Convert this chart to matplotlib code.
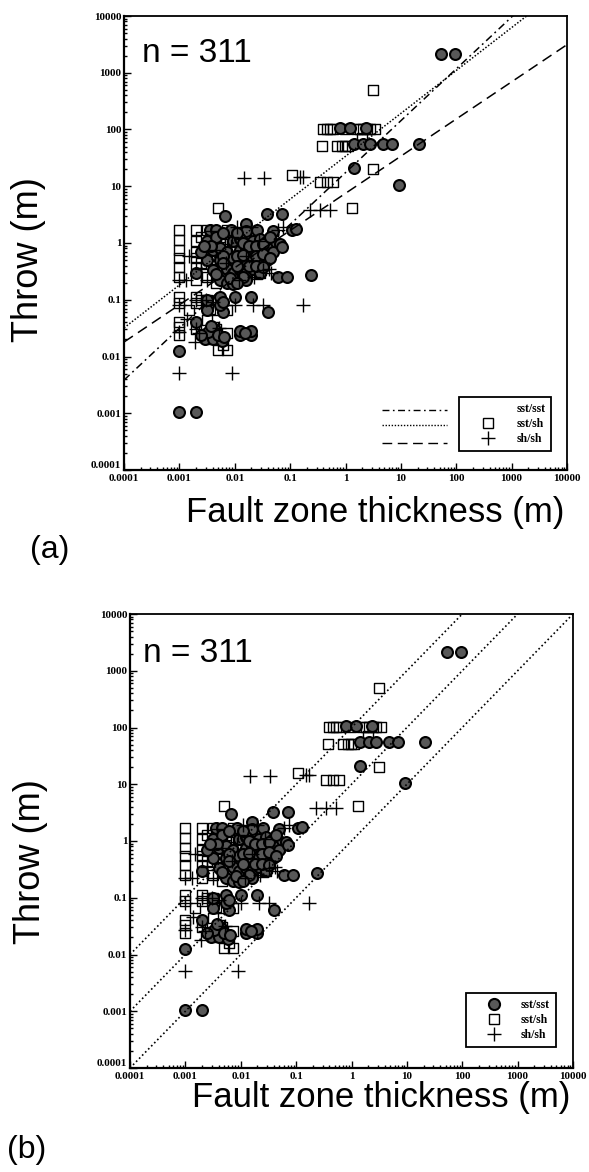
import matplotlib
matplotlib.use("Agg")
import matplotlib.pyplot as plt
import numpy as np
from matplotlib.lines import Line2D
from matplotlib.ticker import FixedLocator, FixedFormatter, LogLocator, NullFormatter

# ---------------------------------------------------------------- data
# fault zone thickness (m) and throw (m), by juxtaposition class
sst_sst_thick = [52, 95, 0.8, 1.2, 2.3, 1.4, 2.1, 2.8, 4.8, 6.8, 21, 1.45, 9.2,
                 0.0067, 0.016, 0.038, 0.07, 0.106, 0.13, 0.234, 0.061, 0.087,
                 0.010, 0.020, 0.040, 0.0062, 0.0124, 0.020, 0.0124, 0.020,
                 0.001, 0.001, 0.002,
                 0.002, 0.0029, 0.0041, 0.0044, 0.0060, 0.0033, 0.0031, 0.0054,
                 0.0055, 0.0062, 0.0031,
                 0.0035, 0.0045, 0.0085, 0.016, 0.025, 0.05,
                 0.0031, 0.0093, 0.0123, 0.021, 0.028, 0.038, 0.05, 0.066,
                 0.0041, 0.0054, 0.0071, 0.0123, 0.0162, 0.021, 0.028, 0.038, 0.05, 0.070,
                 0.0031, 0.0054, 0.0093, 0.0123, 0.0162, 0.021, 0.028, 0.038,
                 0.0020, 0.0041, 0.0071, 0.0093, 0.0123, 0.0162, 0.021, 0.028,
                 0.0054, 0.0071, 0.0093, 0.0162,
                 0.0045, 0.0062, 0.0108, 0.014, 0.018, 0.024, 0.033, 0.044,
                 0.0062, 0.0108, 0.014, 0.018, 0.024, 0.033, 0.044, 0.0108,
                 0.014, 0.024, 0.033, 0.0045, 0.0062, 0.0082, 0.011, 0.0038,
                 0.0025, 0.0028,
                 0.0038, 0.005, 0.0025, 0.0065, 0.015]
sst_sst_throw = [2100, 2100, 105, 105, 105, 55, 55, 55, 55, 55, 55, 21, 10.5,
                 3.0, 2.2, 3.2, 3.2, 1.7, 1.8, 0.27, 0.25, 0.25,
                 0.113, 0.113, 0.062, 0.062, 0.024, 0.024, 0.028, 0.028,
                 0.0126, 0.00105, 0.00105,
                 0.041, 0.020, 0.020, 0.029, 0.019, 0.027, 0.066, 0.11,
                 0.08, 0.09, 0.10,
                 1.7, 1.7, 1.7, 1.6, 1.7, 1.6,
                 1.1, 1.1, 1.2, 1.1, 1.2, 1.1, 1.0, 0.95,
                 0.75, 0.8, 0.7, 0.75, 0.8, 0.7, 0.75, 0.8, 0.7, 0.86,
                 0.5, 0.5, 0.55, 0.45, 0.5, 0.55, 0.45, 0.5,
                 0.3, 0.33, 0.35, 0.3, 0.33, 0.3, 0.35, 0.3,
                 0.22, 0.2, 0.19, 0.22,
                 1.3, 1.5, 1.5, 1.0, 0.9, 0.9, 0.95, 1.3,
                 0.6, 0.6, 0.62, 0.4, 0.6, 0.65, 0.55, 0.4,
                 0.25, 0.4, 0.38, 0.28, 0.45, 0.24, 0.2, 0.9,
                 0.7, 0.9,
                 0.034, 0.024, 0.024, 0.022, 0.026]

sst_sh_thick = [3.1, 1.95, 3.1, 1.29, 0.106, 0.345, 0.457, 0.60,
                0.40, 0.46, 0.52, 0.60, 0.97, 1.58, 1.82, 2.09, 2.4, 2.75, 3.4,
                0.37, 0.71, 0.85, 0.97, 1.12,
                0.005,
                0.001, 0.001, 0.001, 0.001, 0.001, 0.001, 0.001, 0.001, 0.001, 0.001, 0.001,
                0.002, 0.002, 0.002, 0.002, 0.002, 0.002, 0.002, 0.002, 0.0015, 0.002,
                0.0031, 0.0041, 0.0054, 0.0041, 0.0031, 0.0054, 0.0071, 0.0093, 0.0123,
                0.0162, 0.021, 0.028, 0.0071, 0.0093, 0.0123, 0.0054, 0.0041, 0.0031,
                0.0071, 0.025, 0.03, 0.009,
                0.005, 0.0071, 0.0071, 0.0031, 0.0041, 0.0041, 0.0031, 0.0071,
                0.0025, 0.0036, 0.0046, 0.0036, 0.0046, 0.0062, 0.0082, 0.0108,
                0.014, 0.018, 0.024, 0.0025, 0.0062, 0.0082, 0.0046, 0.0036,
                0.0025, 0.0046, 0.0062, 0.0036]
sst_sh_throw = [500, 70, 20, 4.2, 16, 12, 12, 12,
                104, 104, 104, 104, 104, 104, 104, 104, 104, 104, 104,
                51, 51, 51, 51, 51,
                4.1,
                1.7, 1.13, 0.75, 0.54, 0.38, 0.25, 0.113, 0.086, 0.041, 0.033, 0.024,
                1.7, 1.1, 0.7, 0.54, 0.38, 0.22, 0.113, 0.086, 0.066, 0.03,
                1.7, 1.6, 1.3, 0.85, 0.6, 0.6, 0.55, 0.7, 0.5,
                1.5, 0.35, 0.3, 1.7, 1.5, 1.2, 0.25, 0.4, 0.25,
                0.3, 0.28, 0.33, 0.9,
                0.013, 0.013, 0.026, 0.044, 0.033, 0.066, 0.1, 0.066,
                1.3, 1.2, 1.0, 0.5, 0.35, 0.38, 0.45, 0.28,
                0.7, 1.3, 0.5, 0.45, 0.95, 1.2, 0.2, 0.07,
                0.1, 0.03, 0.016, 0.02]

sh_sh_thick = [0.0147, 0.034, 0.15, 0.17, 0.227, 0.345, 0.52, 0.168, 0.001, 0.0091,
               0.010, 0.021, 0.032, 0.032, 0.001, 0.0013, 0.001, 0.001, 0.0019, 0.002,
               0.002, 0.06, 0.075, 0.0015, 0.003, 0.0023, 0.012, 0.007, 0.045, 0.042,
               0.02, 0.011, 0.0031, 0.0085,
               0.0025, 0.0046, 0.016, 0.027, 0.004, 0.0052, 0.0014, 0.009, 0.022, 0.0038]
sh_sh_throw = [14, 14, 14.5, 14.5, 3.8, 3.8, 3.8, 0.081, 0.0052, 0.0052,
               0.081, 0.081, 0.081, 0.33, 0.22, 0.22, 0.08, 0.027, 0.018, 0.1,
               0.03, 1.7, 1.9, 0.6, 0.1, 0.026, 0.22, 0.44, 0.3, 0.35,
               1.9, 1.9, 0.22, 0.9,
               0.35, 0.75, 0.6, 1.1, 0.09, 0.032, 0.045, 1.3, 0.25, 1.6]

# power-law fits, throw = coef * thickness ** exponent
fit_names = ["sst/sst", "sst/sh", "sh/sh"]
fit_coef = [17.4, 33.7, 7.5]
fit_exp = [0.914, 0.756, 0.655]

# constant throw / thickness ratios
ratio_lines = [100, 10, 1]

decades = [1e-4, 1e-3, 1e-2, 1e-1, 1, 10, 100, 1000, 10000]
decade_labels = ["0.0001", "0.001", "0.01", "0.1", "1", "10", "100", "1000", "10000"]
n_label = "n = 311"

# ---------------------------------------------------------------- styles
SANS = ["Liberation Sans", "DejaVu Sans"]
SERIF = ["Liberation Serif", "DejaVu Serif"]
CIRCLE_FACE = "#585858"

fig = plt.figure(figsize=(5.89, 11.72), dpi=100)
fig.patch.set_facecolor("white")

ax_a = fig.add_axes([124 / 589, 1 - 470 / 1172, 443 / 589, 454 / 1172])
ax_b = fig.add_axes([130 / 589, 1 - 1068 / 1172, 443 / 589, 454 / 1172])


def setup_axes(ax):
    ax.set_xscale("log")
    ax.set_yscale("log")
    ax.set_xlim(decades[0], decades[-1])
    ax.set_ylim(decades[0], decades[-1])
    for axis in (ax.xaxis, ax.yaxis):
        axis.set_major_locator(FixedLocator(decades))
        axis.set_major_formatter(FixedFormatter(decade_labels))
        axis.set_minor_locator(LogLocator(base=10, subs=np.arange(2, 10), numticks=20))
        axis.set_minor_formatter(NullFormatter())
    ax.tick_params(which="both", direction="in", top=False, right=False, width=1.0)
    ax.tick_params(which="major", length=5)
    ax.tick_params(which="minor", length=2.5)
    ax.tick_params(axis="x", pad=3)
    ax.tick_params(axis="y", pad=2)
    for lab in ax.get_xticklabels() + ax.get_yticklabels():
        lab.set_fontfamily(SERIF)
        lab.set_fontweight("bold")
        lab.set_fontsize(8)
    # lift the lowest y label clear of the first x label
    ax.get_yticklabels()[0].set_verticalalignment("bottom")
    for side in ("left", "bottom"):
        ax.spines[side].set_linewidth(1.6)
    for side in ("top", "right"):
        ax.spines[side].set_linewidth(1.3)


def scatter_data(ax):
    ax.scatter(sst_sh_thick, sst_sh_throw, marker="s", s=52, facecolors="none",
               edgecolors="black", linewidths=1.0, zorder=3)
    ax.scatter(sst_sst_thick, sst_sst_throw, marker="o", s=62, facecolors=CIRCLE_FACE,
               edgecolors="black", linewidths=1.5, zorder=4)
    ax.scatter(sh_sh_thick, sh_sh_throw, marker="+", s=110, color="black",
               linewidths=1.0, zorder=5)


xfit = np.logspace(-4, 4, 200)

# ---------------------------------------------------------------- panel (a)
setup_axes(ax_a)
scatter_data(ax_a)
fit_styles = [(0, (5, 2.5, 1.2, 2.5)), (0, (1, 1.2)), (0, (7, 4))]
for coef, expo, ls in zip(fit_coef, fit_exp, fit_styles):
    ax_a.plot(xfit, coef * xfit ** expo, color="black", lw=1.1, ls=ls, zorder=6)

# line keys sit to the left of the legend box
key_rows = [0.132, 0.099, 0.059]
for row, ls in zip(key_rows, fit_styles):
    ax_a.plot([0.582, 0.729], [row, row], transform=ax_a.transAxes, color="black",
              lw=1.0, ls=ls, zorder=7)

handles_a = [Line2D([], [], ls="none", marker=""),
             Line2D([], [], ls="none", marker="s", mfc="none", mec="black", ms=7, mew=1.0),
             Line2D([], [], ls="none", marker="+", color="black", ms=10, mew=1.0)]
leg_a = ax_a.legend(handles_a, fit_names, loc="upper left", bbox_to_anchor=(0.756, 0.161),
                    borderaxespad=0, frameon=True, fancybox=False, framealpha=1,
                    edgecolor="black", handlelength=3.9, handletextpad=0.45,
                    borderpad=0.5, labelspacing=0.25,
                    prop={"family": SERIF, "weight": "bold", "size": 8.5})
leg_a.get_frame().set_linewidth(1.3)
leg_a.set_zorder(8)

ax_a.text(0.041, 0.899, n_label, transform=ax_a.transAxes, fontsize=24,
          family=SANS, ha="left", va="baseline", zorder=9)

# ---------------------------------------------------------------- panel (b)
setup_axes(ax_b)
scatter_data(ax_b)
for r in ratio_lines:
    ax_b.plot(xfit, r * xfit, color="black", lw=1.2, ls=(0, (1, 1.6)), zorder=6)

handles_b = [Line2D([], [], ls="none", marker="o", mfc=CIRCLE_FACE, mec="black", ms=8, mew=1.5),
             Line2D([], [], ls="none", marker="s", mfc="none", mec="black", ms=7, mew=1.0),
             Line2D([], [], ls="none", marker="+", color="black", ms=10, mew=1.0)]
leg_b = ax_b.legend(handles_b, fit_names, loc="upper left", bbox_to_anchor=(0.758, 0.165),
                    borderaxespad=0, frameon=True, fancybox=False, framealpha=1,
                    edgecolor="black", handlelength=3.7, handletextpad=0.45,
                    borderpad=0.5, labelspacing=0.25,
                    prop={"family": SERIF, "weight": "bold", "size": 8.5})
leg_b.get_frame().set_linewidth(1.3)
leg_b.set_zorder(8)

ax_b.text(0.029, 0.894, n_label, transform=ax_b.transAxes, fontsize=24,
          family=SANS, ha="left", va="baseline", zorder=9)

# ---------------------------------------------------------------- axis titles
W, H = 589, 1172
fig.text(28 / W, 1 - 260 / H, "Throw (m)", rotation=90, ha="center", va="center",
         fontsize=26, family=SANS)
fig.text(31 / W, 1 - 862 / H, "Throw (m)", rotation=90, ha="center", va="center",
         fontsize=26, family=SANS)
fig.text(375 / W, 1 - 512 / H, "Fault zone thickness (m)", ha="center", va="center",
         fontsize=25, family=SANS)
fig.text(381 / W, 1 - 1098 / H, "Fault zone thickness (m)", ha="center", va="center",
         fontsize=25, family=SANS)
fig.text(50 / W, 1 - 550 / H, "(a)", ha="center", va="center", fontsize=23, family=SANS)
fig.text(27 / W, 1 - 1150 / H, "(b)", ha="center", va="center", fontsize=23, family=SANS)

fig.savefig("out.png", dpi=100, facecolor="white")
